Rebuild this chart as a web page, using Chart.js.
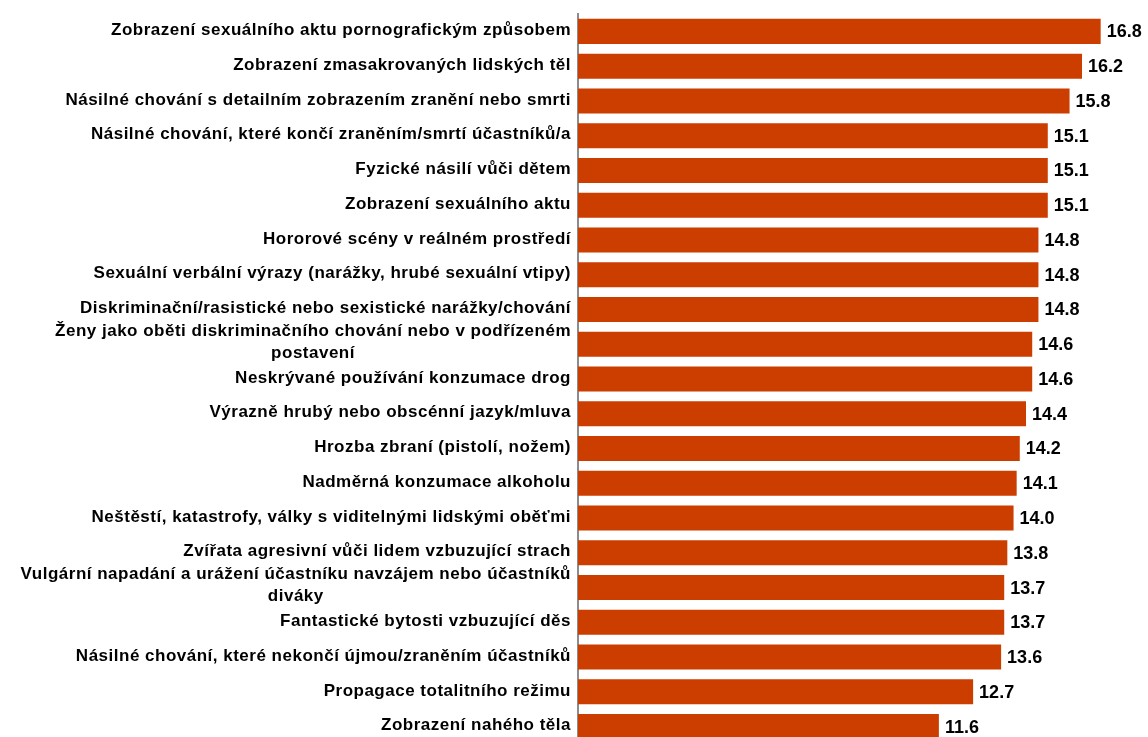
<!DOCTYPE html>
<html>
<head>
<meta charset="utf-8">
<script src="https://cdn.jsdelivr.net/npm/chart.js@4"></script>
<style>
  html, body { margin: 0; padding: 0; background: #fff; overflow: hidden; }
  #wrap { width: 1148px; height: 750px; }
</style>
</head>
<body>
<div id="wrap"><canvas id="chart" width="1148" height="750"></canvas></div>
<script>
// kategorie (dvouřádkové jako pole)
const categories = [
  "Zobrazení sexuálního aktu pornografickým způsobem",
  "Zobrazení zmasakrovaných lidských těl",
  "Násilné chování s detailním zobrazením zranění nebo smrti",
  "Násilné chování, které končí zraněním/smrtí účastníků/a",
  "Fyzické násilí vůči dětem",
  "Zobrazení sexuálního aktu",
  "Hororové scény v reálném prostředí",
  "Sexuální verbální výrazy (narážky, hrubé sexuální vtipy)",
  "Diskriminační/rasistické nebo sexistické narážky/chování",
  ["Ženy jako oběti diskriminačního chování nebo v podřízeném", "postavení"],
  "Neskrývané používání konzumace drog",
  "Výrazně hrubý nebo obscénní jazyk/mluva",
  "Hrozba zbraní (pistolí, nožem)",
  "Nadměrná konzumace alkoholu",
  "Neštěstí, katastrofy, války s viditelnými lidskými oběťmi",
  "Zvířata agresivní vůči lidem vzbuzující strach",
  ["Vulgární napadání a urážení účastníku navzájem nebo účastníků", "diváky"],
  "Fantastické bytosti vzbuzující děs",
  "Násilné chování, které nekončí újmou/zraněním účastníků",
  "Propagace totalitního režimu",
  "Zobrazení nahého těla"
];

const values = [16.8, 16.2, 15.8, 15.1, 15.1, 15.1, 14.8, 14.8, 14.8, 14.6,
                14.6, 14.4, 14.2, 14.1, 14.0, 13.8, 13.7, 13.7, 13.6, 12.7, 11.6];

const FONT = "'Liberation Sans', Arial, sans-serif";

/* popisky kategorií – víceřádkové centrované, jinak zarovnané vpravo */
const categoryLabels = {
  id: "categoryLabels",
  afterDraw(chart) {
    const ctx = chart.ctx;
    const y = chart.scales.y;
    const right = y.right - 7;
    const lh = 22;
    ctx.save();
    ctx.font = "bold 17px " + FONT;
    ctx.letterSpacing = "0.5px";
    ctx.fillStyle = "#000";
    ctx.textBaseline = "middle";
    ctx.textAlign = "center";
    categories.forEach((c, i) => {
      const lines = Array.isArray(c) ? c : [c];
      const w = Math.max(...lines.map(l => ctx.measureText(l).width));
      const cx = right - w / 2;
      const cy = y.getPixelForTick(i) - 1;
      const start = cy - (lines.length - 1) * lh / 2 - (lines.length > 1 ? 1 : 0);
      lines.forEach((l, k) => ctx.fillText(l, cx, start + k * lh));
    });
    ctx.restore();
  }
};

/* hodnoty za koncem sloupců */
const valueLabels = {
  id: "valueLabels",
  afterDatasetsDraw(chart) {
    const ctx = chart.ctx;
    const meta = chart.getDatasetMeta(0);
    ctx.save();
    ctx.font = "bold 18px " + FONT;
    ctx.fillStyle = "#000";
    ctx.textBaseline = "middle";
    ctx.textAlign = "left";
    meta.data.forEach((bar, i) => {
      ctx.fillText(values[i].toFixed(1), bar.x + 6, bar.y + 1);
    });
    ctx.restore();
  }
};

new Chart(document.getElementById("chart"), {
  type: "bar",
  data: {
    labels: categories,
    datasets: [{
      data: values,
      backgroundColor: "#CC3D00",
      borderWidth: 0,
      barPercentage: 0.72,
      categoryPercentage: 1
    }]
  },
  options: {
    indexAxis: "y",
    responsive: false,
    animation: false,
    layout: { padding: { top: 14, right: 10, bottom: 6, left: 0 } },
    plugins: { legend: { display: false }, tooltip: { enabled: false } },
    scales: {
      x: { display: false, min: 0, max: 18 },
      y: {
        grid: { display: false },
        border: { display: true, color: "#8c8c8c", width: 2 },
        ticks: { display: false },
        afterFit(scale) { scale.width = 578; }
      }
    }
  },
  plugins: [categoryLabels, valueLabels]
});
</script>
</body>
</html>
